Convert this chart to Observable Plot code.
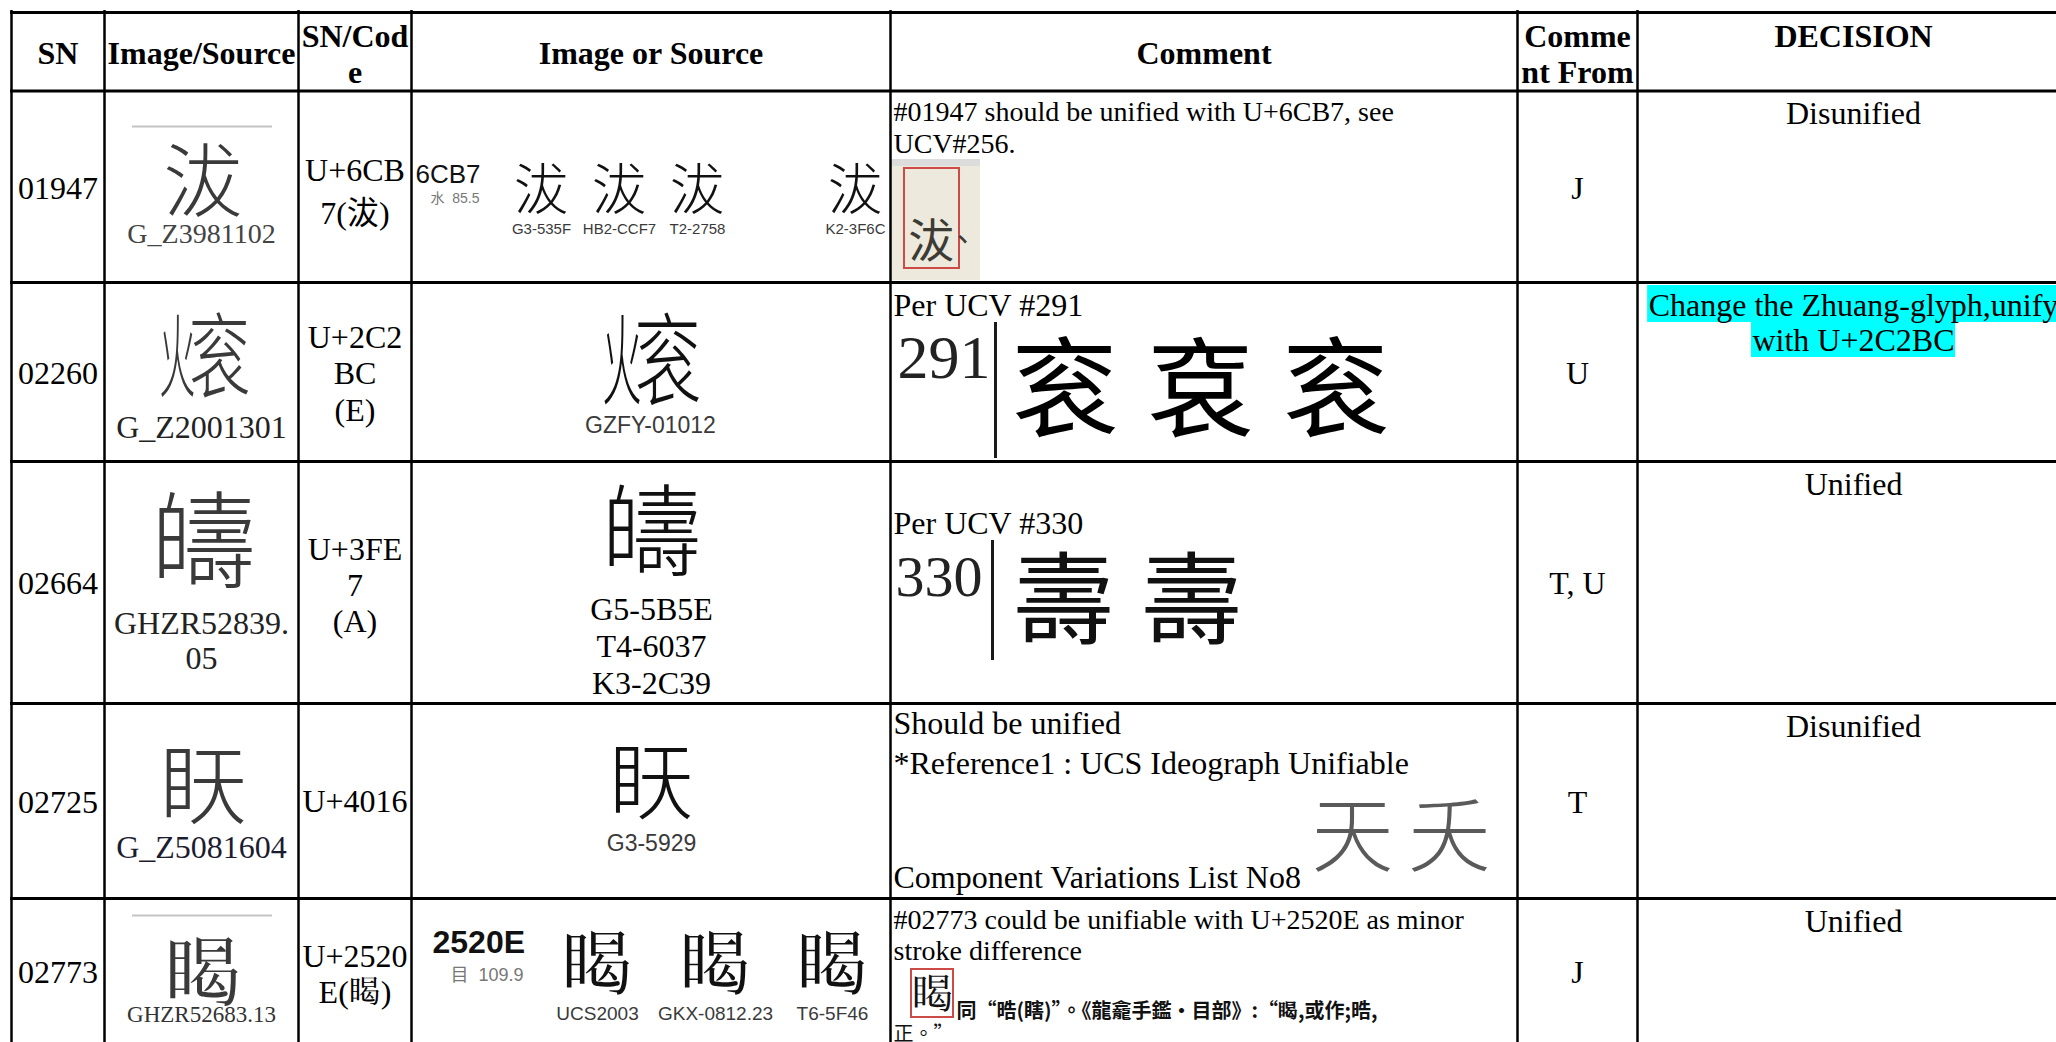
<!DOCTYPE html>
<html>
<head>
<meta charset="utf-8">
<script src="https://cdn.jsdelivr.net/npm/d3@7"></script>
<script src="https://cdn.jsdelivr.net/npm/@observablehq/plot@0.6"></script>
<style>
  html, body { margin: 0; padding: 0; background: #fff; }
  #chart svg { display: block; background: #fff; }
</style>
</head>
<body>
<div id="chart"></div>
<script>
// ---------------- DATA ----------------
const headers = ["SN", "Image/Source", "SN/Cod\ne", "Image or Source", "Comment", "Comme\nnt From", "DECISION"];
const sn = ["01947", "02260", "02664", "02725", "02773"];
const sourceGlyphs = ["沷", "\u{2C2BC}", "\u{3FE7}", "\u{4016}", "\u{2520E}"];
const sourceLabels = ["G_Z3981102", "G_Z2001301", "GHZR52839.\n05", "G_Z5081604", "GHZR52683.13"];
const codes = ["U+6CB\n7(沷)", "U+2C2\nBC\n(E)", "U+3FE\n7\n(A)", "U+4016", "U+2520\nE(\u{2520E})"];
const refCodes = ["6CB7", null, null, null, "2520E"];
const refRadicals = ["水  85.5", null, null, null, "目  109.9"];
const refGlyphs = [["沷", "沷", "沷", "沷"], ["\u{2C2BC}"], ["\u{3FE7}"], ["\u{4016}"], ["\u{2520E}", "\u{2520E}", "\u{2520E}"]];
const refLabels = [["G3-535F", "HB2-CCF7", "T2-2758", "K2-3F6C"], ["GZFY-01012"], ["G5-5B5E\nT4-6037\nK3-2C39"], ["G3-5929"], ["UCS2003", "GKX-0812.23", "T6-5F46"]];
const comments = [
  ["#01947 should be unified with U+6CB7, see", "UCV#256."],
  ["Per UCV #291"],
  ["Per UCV #330"],
  ["Should be unified", "*Reference1 : UCS Ideograph Unifiable", "", "Component Variations List No8"],
  ["#02773 could be unifiable with U+2520E as minor", "stroke difference"]
];
const ucvNumbers = [null, "291", "330", null, null];
const ucvGlyphs = [null, ["衮", "袞", "衮"], ["壽", "壽"], ["天", "夭"], null];
const evidenceGlyphs = ["沷", null, null, null, "\u{2520E}"];
const evidenceQuote = [null, null, null, null, ["同“晧(瞎)”。《龍龕手鑑·目部》:“\u{2520E},或作;晧,", "正。”"]];
const commentFrom = ["J", "U", "T, U", "T", "J"];
const decisions = ["Disunified", "Change the Zhuang-glyph,unify\nwith U+2C2BC", "Unified", "Disunified", "Unified"];
const highlighted = [false, true, false, false, false];
// U+2C2BC (CJK Ext. E) has no installed font: drawn from its two components 火 + 衮
const componentsOf = { "\u{2C2BC}": ["火", "衮"] };

// ---------------- LAYOUT ----------------
const W = 2056, H = 1042;
const colEdges = [11, 104, 298, 411, 890, 1517, 1637, 2070];
const rowEdges = [12, 90.5, 282, 461, 703, 898, 1044];
const colMid = d3.range(7).map(i => (colEdges[i] + colEdges[i + 1]) / 2);
colMid[6] = 1853;
const rowTop = i => rowEdges[i + 1];
const rowMid = i => (rowEdges[i + 1] + rowEdges[i + 2]) / 2;

const SERIF = "'Liberation Serif','Times New Roman','Noto Sans CJK TC',serif";
const SANS = "'Liberation Sans',Arial,'Noto Sans CJK TC',sans-serif";
const NARROW = "'Liberation Sans Narrow','Arial Narrow','Liberation Sans',sans-serif";
const CJK = "'Noto Sans CJK TC','Noto Sans CJK SC','Noto Sans CJK JP',sans-serif";

const L = [
  { srcG: [180, 80], srcL: [233, 28, "#444"], code: [188, 1.35], refG: { xs: [541, 619, 697, 855], y: 188, s: 55, ly: 228, ls: 15, lf: NARROW },
    refC: [415, 173, 26, "normal"], refR: [430, 197, 14], com: [110, 32, 28], grayLine: 126 },
  { srcG: [356, 92], srcL: [426, 32, "#222"], code: [372, 1.14], refG: { xs: [650], y: 360, s: 100, ly: 424, ls: 23, lf: SANS },
    com: [304, 32, 32], ucv: { nx: 897, ny: 355, ns: 62, bx: 995, b1: 322, b2: 458, xs: [1064, 1200, 1335], y: 388, s: 108, fill: "#000" } },
  { srcG: [540, 105], srcL: [640, 32, "#222", 1.1], code: [584, 1.125], refG: { xs: [651], y: 531, s: 100, ly: 645, ls: 32, lf: SERIF, lh: 1.15, lfill: "#000" },
    com: [522, 32, 32], ucv: { nx: 895, ny: 574, ns: 58, bx: 992, b1: 540, b2: 660, xs: [1063, 1191], y: 599, s: 100, fill: "#111" } },
  { srcG: [784, 88], srcL: [846, 32, "#1c1c30"], code: [800, 1.1], refG: { xs: [651], y: 781, s: 85, ly: 842, ls: 23, lf: SANS },
    com: [722, 40, 32], ucvPlain: { xs: [1352, 1449], y: 834, s: 82, fill: "#5a5a5a" } },
  { srcG: [972, 78], srcL: [1013, 23, "#333"], code: [973, 1.125], refG: { xs: [597, 715, 832], y: 963, s: 72, ly: 1013, ls: 19, lf: NARROW },
    refC: [432, 941, 32, "bold"], refR: [450, 974, 18], com: [918, 31, 28], grayLine: 915 }
];

// ---------------- BUILD ITEMS ----------------
const items = [];
function T(x, y, text, size, o = {}) {
  items.push({ x, y, text, size, font: o.font || SERIF, weight: o.weight || "normal", anchor: o.anchor || "middle",
               fill: o.fill || "#000", lh: o.lh || 1.15, part: o.part || "" });
}
// a big ideograph; falls back to its components when no font has it
function G(x, y, ch, size, fill) {
  const parts = componentsOf[ch];
  if (!parts) { T(x, y, ch, size, { font: CJK, fill, weight: 300 }); return; }
  const w = size * 0.95;
  T(x - w * 0.5 + w * 0.2, y, parts[0], size, { font: CJK, fill, weight: 300, part: "left" });
  T(x - w * 0.5 + w * 0.68, y, parts[1], size, { font: CJK, fill, weight: 300, part: "right" });
}

headers.forEach((h, i) => {
  const y = i === 6 ? 35 : (h.includes("\n") ? 53 : 52);
  T(colMid[i], y, h, 32, { weight: "bold", lh: 1.125 });
});

const rects = [], boxes = [], bars = [], grayLines = [];

sn.forEach((s, r) => {
  const l = L[r];
  T(colMid[0], rowMid(r), s, 32);
  G(colMid[1] + 2, l.srcG[0], sourceGlyphs[r], l.srcG[1], "#3a3a3a");
  T(colMid[1], l.srcL[0], sourceLabels[r], l.srcL[1], { fill: l.srcL[2], lh: l.srcL[3] || 1.1 });
  if (l.grayLine) grayLines.push({ y: l.grayLine, x1: 132, x2: 272 });
  T(colMid[2], l.code[0], codes[r], 32, { lh: l.code[1] });
  if (refCodes[r]) {
    T(l.refC[0], l.refC[1], refCodes[r], l.refC[2], { font: SANS, anchor: "start", fill: "#111", weight: l.refC[3] });
    T(l.refR[0], l.refR[1], refRadicals[r], l.refR[2], { font: SANS, anchor: "start", fill: "#777" });
  }
  refGlyphs[r].forEach((g, k) => {
    G(l.refG.xs[k], l.refG.y, g, l.refG.s, "#111");
    T(l.refG.xs[k], l.refG.ly, refLabels[r][k], l.refG.ls, { font: l.refG.lf, fill: l.refG.lfill || "#3a3a3a", lh: l.refG.lh || 1.1 });
  });
  comments[r].forEach((line, k) => {
    if (!line) return;
    const y = r === 3 && k === 3 ? 876 : l.com[0] + k * l.com[1];
    T(893, y, line, l.com[2], { anchor: "start" });
  });
  if (l.ucv) {
    T(l.ucv.nx, l.ucv.ny, ucvNumbers[r], l.ucv.ns, { anchor: "start", fill: "#222" });
    bars.push({ x: l.ucv.bx, y1: l.ucv.b1, y2: l.ucv.b2 });
    ucvGlyphs[r].forEach((g, k) => T(l.ucv.xs[k], l.ucv.y, g, l.ucv.s, { font: CJK, fill: l.ucv.fill }));
  }
  if (l.ucvPlain) {
    ucvGlyphs[r].forEach((g, k) => T(l.ucvPlain.xs[k], l.ucvPlain.y, g, l.ucvPlain.s, { font: CJK, fill: l.ucvPlain.fill, weight: 300 }));
  }
  if (r === 0) {
    rects.push({ x1: 891, x2: 980, y1: 159, y2: 280, fill: "#eee9dd" });
    rects.push({ x1: 891, x2: 980, y1: 159, y2: 166, fill: "#dcdcdc" });
    boxes.push({ x1: 904, x2: 959, y1: 168, y2: 268 });
    T(931, 240, evidenceGlyphs[r], 46, { font: CJK, fill: "#3c3c34" });
    T(962, 238, "、", 30, { font: CJK, fill: "#3c3c34" });
  }
  if (r === 4) {
    boxes.push({ x1: 911, x2: 953, y1: 969, y2: 1017 });
    T(932, 993, evidenceGlyphs[r], 42, { font: CJK, fill: "#111" });
    T(956, 1010, evidenceQuote[r][0], 20, { font: CJK, weight: "bold", anchor: "start", fill: "#111" });
    T(893, 1033, evidenceQuote[r][1], 20, { font: CJK, anchor: "start", fill: "#111" });
  }
  T(colMid[5], rowMid(r), commentFrom[r], 32);
  const lines = decisions[r].split("\n");
  const first = rowTop(r) + 22, lh = 35;
  if (highlighted[r]) {
    const ctx = document.createElement("canvas").getContext("2d");
    ctx.font = "32px 'Liberation Serif','Times New Roman',serif";
    lines.forEach((line, k) => {
      const w = ctx.measureText(line).width;
      const cy = first + k * lh;
      rects.push({ x1: colMid[6] - w / 2 - 1, x2: colMid[6] + w / 2 + 1, y1: cy - 19, y2: cy + 18, fill: "#00ffff" });
    });
  }
  T(colMid[6], first + (lines.length - 1) * lh / 2, decisions[r], 32, { lh: lh / 32 });
});

// ---------------- PLOT ----------------
const groups = d3.groups(items, d => [d.font, d.weight, d.anchor, d.fill, d.lh, d.part].join("|"));
const textMarks = groups.map(([key, g]) => Plot.text(g, {
  x: "x", y: "y", text: "text", fontSize: "size",
  fontFamily: g[0].font, fontWeight: g[0].weight, textAnchor: g[0].anchor,
  fill: g[0].fill, lineHeight: g[0].lh, lineAnchor: "middle",
  ariaDescription: g[0].part ? "glyph-" + g[0].part : undefined
}));

const chart = Plot.plot({
  width: W, height: H,
  margin: 0,
  x: { domain: [0, W], range: [0, W], axis: null },
  y: { domain: [0, H], range: [0, H], axis: null },
  style: { background: "#fff" },
  marks: [
    Plot.rect(rects, { x1: "x1", x2: "x2", y1: "y1", y2: "y2", fill: d => d.fill }),
    Plot.rect(boxes, { x1: "x1", x2: "x2", y1: "y1", y2: "y2", fill: "none", stroke: "#cc4b47", strokeWidth: 2 }),
    Plot.ruleY(grayLines, { y: "y", x1: "x1", x2: "x2", stroke: "#c4c4c4", strokeWidth: 2 }),
    Plot.ruleX(bars, { x: "x", y1: "y1", y2: "y2", stroke: "#1a1a1a", strokeWidth: 3 }),
    Plot.ruleX(colEdges.slice(0, 7), { x: d => d, y1: rowEdges[0] - 2, y2: H, stroke: "#000", strokeWidth: 2.5 }),
    Plot.ruleY(rowEdges.slice(0, 6), { y: d => d, x1: colEdges[0] - 1, x2: W, stroke: "#000", strokeWidth: 3 }),
    ...textMarks
  ]
});

// squeeze the component glyphs horizontally so they read as one character
const squeeze = { left: 0.4, right: 0.68 };
for (const [part, s] of Object.entries(squeeze)) {
  d3.select(chart).selectAll(`g[aria-description="glyph-${part}"] text`).each(function () {
    const t = this.getAttribute("transform");
    if (t) this.setAttribute("transform", t + ` scale(${s},1)`);
    else {
      const x = this.getAttribute("x") || 0, y = this.getAttribute("y") || 0;
      this.removeAttribute("x"); this.removeAttribute("y");
      this.setAttribute("transform", `translate(${x},${y}) scale(${s},1)`);
    }
  });
}
document.getElementById("chart").appendChild(chart);
</script>
</body>
</html>
